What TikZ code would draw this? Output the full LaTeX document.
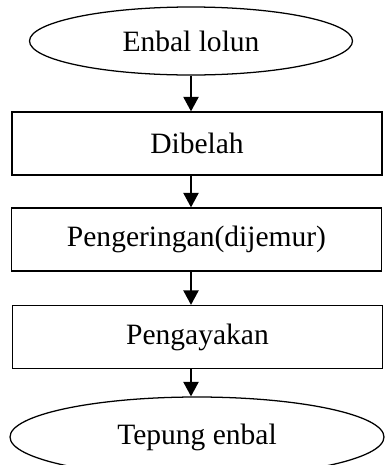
\documentclass[tikz,border=0pt]{standalone}
\usepackage{fontspec}
\setmainfont{Liberation Serif}
\usetikzlibrary{shapes.geometric,arrows.meta}
\begin{document}
\begin{tikzpicture}[
    proses/.style={draw,line width=0.9pt,minimum width=9.25cm,minimum height=1.575cm,inner sep=0pt},
    terminal/.style={draw,ellipse,line width=0.9pt,inner sep=0pt},
    panah/.style={line width=1.4pt,-{Triangle[width=0.375cm,length=0.36cm]}},
    font=\fontsize{21}{25}\selectfont]
            \useasboundingbox (0,0) rectangle (9.7,-11.625);
            \node[terminal,minimum width=8.075cm,minimum height=1.7cm] (mulai) at (4.775,-1.025) {Enbal lolun};
            \node[proses] (belah) at (4.925,-3.5875) {Dibelah};
            \node[proses] (kering) at (4.9125,-5.9875) {Pengeringan(dijemur)};
            \node[proses] (ayak) at (4.9375,-8.425) {Pengayakan};
            \node[terminal,minimum width=9.35cm,minimum height=2cm] (hasil) at (4.925,-10.925) {Tepung enbal};
            \draw[panah] (mulai.south) -- (mulai.south |- belah.north);
            \draw[panah] (belah.south -| mulai.south) -- (kering.north -| mulai.south);
            \draw[panah] (kering.south -| mulai.south) -- (ayak.north -| mulai.south);
            \draw[panah] (ayak.south -| mulai.south) -- (hasil.north -| mulai.south);
        \end{tikzpicture}
\end{document}
